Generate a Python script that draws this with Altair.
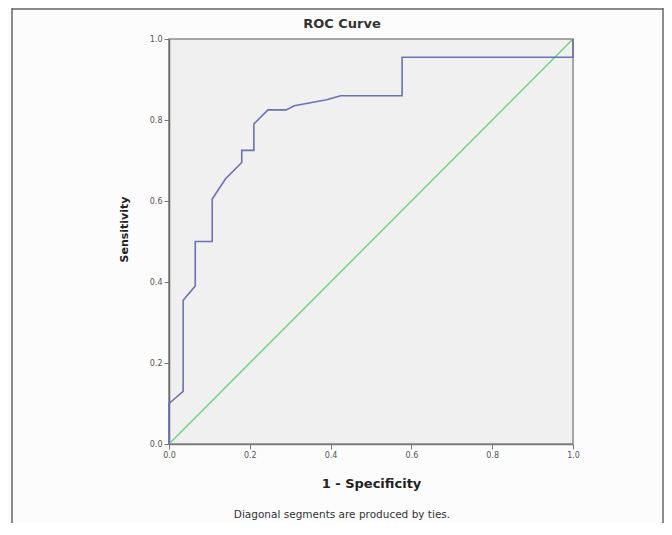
import altair as alt
import pandas as pd

# ROC curve points (1 - specificity, sensitivity)
fpr = [0.0, 0.0, 0.035, 0.035, 0.065, 0.065, 0.107, 0.107, 0.14, 0.18, 0.18,
       0.21, 0.21, 0.245, 0.29, 0.31, 0.39, 0.425, 0.577, 0.577, 1.0, 1.0]
tpr = [0.0, 0.10, 0.13, 0.355, 0.39, 0.50, 0.50, 0.605, 0.655, 0.695, 0.725,
       0.725, 0.79, 0.825, 0.825, 0.835, 0.85, 0.86, 0.86, 0.955, 0.955, 1.0]
ref_x = [0.0, 1.0]
ref_y = [0.0, 1.0]
tick_values = [0.0, 0.2, 0.4, 0.6, 0.8, 1.0]
title_text = "ROC Curve"
x_title = "1 - Specificity"
y_title = "Sensitivity"
footnote = "Diagonal segments are produced by ties."

roc_df = pd.DataFrame({"fpr": fpr, "tpr": tpr, "i": list(range(len(fpr)))})
ref_df = pd.DataFrame({"fpr": ref_x, "tpr": ref_y})
note_df = pd.DataFrame({"t": [footnote]})
title_df = pd.DataFrame({"t": [title_text]})

FONT = "DejaVu Sans"

x_enc = alt.X(
    "fpr:Q",
    scale=alt.Scale(domain=[0, 1], nice=False, zero=False),
    axis=alt.Axis(
        values=tick_values, format=".1f", grid=False, labelFlush=False,
        labelFont=FONT, labelFontSize=8, labelColor="#555555", labelPadding=2,
        tickSize=5, tickColor="#777777", domainColor="#7a7a7a", domainWidth=1.5,
        title=x_title, titleFont=FONT, titleFontSize=13, titleFontWeight="bold",
        titleColor="#222222", titleX=202, titleY=39, titleBaseline="middle",
        titleAlign="center",
    ),
)
y_enc = alt.Y(
    "tpr:Q",
    scale=alt.Scale(domain=[0, 1], nice=False, zero=False),
    axis=alt.Axis(
        values=tick_values, format=".1f", grid=False, labelFlush=False,
        labelFont=FONT, labelFontSize=8, labelColor="#555555", labelPadding=2,
        tickSize=5, tickColor="#777777", domainColor="#6a6a6a", domainWidth=1.5,
        title=y_title, titleFont=FONT, titleFontSize=11, titleFontWeight="bold",
        titleColor="#222222", titleX=-45, titleY=190, titleAngle=-90,
        titleBaseline="middle", titleAlign="center",
    ),
)

roc = alt.Chart(roc_df).mark_line(color="#6b72b3", strokeWidth=1.6).encode(
    x=x_enc, y=y_enc, order="i:Q"
)
diag = alt.Chart(ref_df).mark_line(color="#72cf78", strokeWidth=1.4).encode(
    x="fpr:Q", y="tpr:Q"
)
title = alt.Chart(title_df).mark_text(
    font=FONT, fontSize=13, fontWeight="bold", color="#333333",
    align="center", baseline="middle"
).encode(x=alt.value(173), y=alt.value(-15), text="t:N")
note = alt.Chart(note_df).mark_text(
    font=FONT, fontSize=10.5, color="#333333", align="center", baseline="middle"
).encode(x=alt.value(173), y=alt.value(476), text="t:N")

frame_left = alt.Chart(note_df).mark_rule(color="#666666", strokeWidth=1.5).encode(
    x=alt.value(-157), y=alt.value(-31), y2=alt.value(484)
)
frame_top = alt.Chart(note_df).mark_rule(color="#666666", strokeWidth=1.5).encode(
    x=alt.value(-157), x2=alt.value(494), y=alt.value(-30)
)
frame_right = alt.Chart(note_df).mark_rule(color="#666666", strokeWidth=1.5).encode(
    x=alt.value(494), y=alt.value(-31), y2=alt.value(484)
)

chart = alt.layer(diag, roc, title, note, frame_left, frame_top, frame_right).properties(
    width=404,
    height=405,
    autosize=alt.AutoSizeParams(type="none"),
    padding={"left": 161, "top": 31, "right": 91, "bottom": 79},
    background="#fcfcfc",
).configure_view(
    fill="#f0f0f0", stroke="#8a8a8a", strokeWidth=1.5
)

chart.save("out.html", embed_options={"renderer": "svg", "actions": False})
